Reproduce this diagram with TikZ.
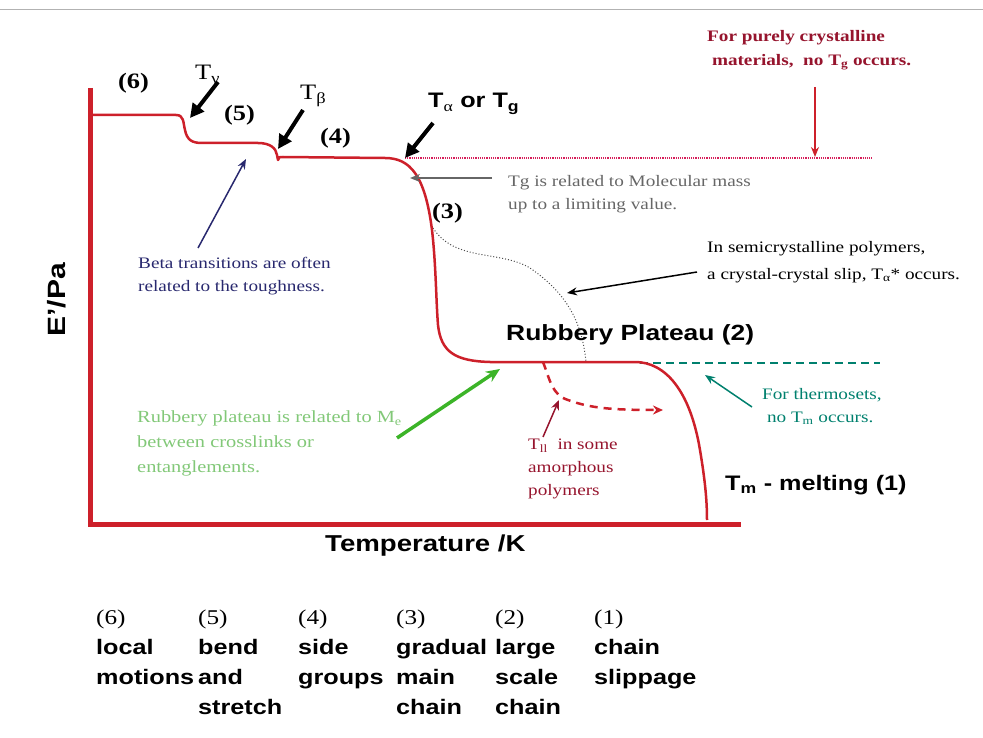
\documentclass[tikz,border=0pt]{standalone}
\usepackage{fontspec}
\setmainfont{Liberation Serif}[FakeStretch=1.2]
\setsansfont{Liberation Sans}[FakeStretch=1.2]
\usetikzlibrary{arrows.meta}
\definecolor{pRed}{RGB}{205,32,42}
\definecolor{pDarkRed}{RGB}{150,20,45}
\definecolor{pNavy}{RGB}{40,40,110}
\definecolor{pGray}{gray}{0.4}
\definecolor{pTeal}{RGB}{0,128,110}
\definecolor{pLeaf}{RGB}{130,200,120}
\definecolor{pGreen}{RGB}{60,180,40}
\definecolor{pPink}{RGB}{215,30,90}
\tikzset{
    curve/.style={line width=2.5pt, pRed, line join=round},
    axis/.style={line width=5pt, pRed},
    note/.style={font=\fontsize{16}{23}\selectfont, align=left, anchor=north west, inner sep=0pt},
    region/.style={font=\bfseries\fontsize{22}{24}\selectfont, inner sep=0pt, anchor=base west},
    big/.style={font=\sffamily\bfseries\fontsize{22}{26}\selectfont, inner sep=0pt, anchor=base west},
    pointer/.style={line width=4pt, -{Triangle[length=14pt,width=14pt]}},
    thinptr/.style={line width=1.5pt, -{Stealth[length=10pt,width=8pt]}},
    legend/.style={font=\sffamily\bfseries\fontsize{21}{30}\selectfont, align=left, anchor=north west, inner sep=0pt}
}

\begin{document}
\begin{tikzpicture}[x=1pt,y=-1pt]
\useasboundingbox (0,0) rectangle (983,738);
\draw[gray!60,line width=0.8pt] (0,9)--(983,9);
% axes
\draw[axis] (90,88)--(90,527);
\draw[axis] (88,524)--(741,524);
% reference levels
\draw[pPink,densely dotted,line width=1.2pt] (405,158)--(872,158);
\draw[pTeal,dash pattern=on 8pt off 5pt,line width=1.3pt] (640,363)--(880,363);
\draw[black!70,dotted,line width=1pt] (433,228) .. controls (455,262) and (500,250) .. (530,268)
    .. controls (565,292) and (582,320) .. (586,362);
% modulus curve
\draw[curve] (93,115) -- (176,115) .. controls (184,115) and (183,122) .. (185,130)
    .. controls (187,140) and (192,143) .. (202,143) -- (258,143)
    .. controls (270,143) and (276,148) .. (277,155) -- (278,160) .. controls (279,157) .. (283,157)
    -- (385,158) .. controls (410,158) and (425,175) .. (432,230)
    .. controls (436,265) and (436,300) .. (438,325)
    .. controls (441,352) and (455,361) .. (490,362) -- (635,362)
    .. controls (665,362) and (690,390) .. (700,450)
    .. controls (705,480) and (707,500) .. (707,520);
\draw[curve,dash pattern=on 8pt off 6pt,-{Stealth[length=10pt,width=9pt]}] (543,362) .. controls (550,380) and (552,395) .. (568,400)
    .. controls (590,408) and (610,410) .. (663,410);

% region numbers
\node[region] (r6) at (118,89) {(6)};
\node[region] (r5) at (224,121) {(5)};
\node[region] (r4) at (320,144) {(4)};
\node[region] (r3) at (432,219) {(3)};

% transition labels
\node[font=\fontsize{22}{26}\selectfont, inner sep=0pt, anchor=base west] (tgam) at (195,80) {T\textsubscript{γ}};
\node[font=\fontsize{22}{26}\selectfont, inner sep=0pt, anchor=base west] (tbet) at (300,100) {T\textsubscript{β}};
\node[big,font=\sffamily\bfseries\fontsize{21}{26}\selectfont] (talp) at (428,108) {T\textsubscript{\rmfamily\mdseries α} or T\textsubscript{g}};
\coordinate (tgamS) at (218,82);  \coordinate (tgamE) at (190,118);
\coordinate (tbetS) at (303,110); \coordinate (tbetE) at (278,149);
\coordinate (talpS) at (433,123); \coordinate (talpE) at (405,158);
\draw[pointer] (tgamS) -- (tgamE);
\draw[pointer] (tbetS) -- (tbetE);
\draw[pointer] (talpS) -- (talpE);

% notes
\node[note,pDarkRed,font=\bfseries\fontsize{16}{24}\selectfont] (cryst) at (707,30)
    {For purely crystalline\\ \ materials,\ \ no T\textsubscript{g} occurs.};
\node[note,pGray] (tgnote) at (508,175) {Tg is related to Molecular mass\\ up to a limiting value.};
\node[note,pNavy] (beta) at (138,257) {Beta transitions are often\\ related to the toughness.};
\node[note,font=\fontsize{16}{27}\selectfont] (slip) at (707,241) {In semicrystalline polymers,\\ a crystal-crystal slip, T\textsubscript{α}* occurs.};
\node[note,pLeaf,font=\fontsize{17}{25}\selectfont] (mesh) at (137,411) {Rubbery plateau is related to M\textsubscript{e}\\ between crosslinks or\\ entanglements.};
\node[note,pTeal] (thset) at (762,388) {For thermosets,\\ \ no T\textsubscript{m} occurs.};
\node[note,pDarkRed] (tll) at (528,439) {T\textsubscript{ll} \ in some\\ amorphous\\ polymers};

\coordinate (crystS) at (815,87);  \coordinate (crystE) at (815,157);
\coordinate (tgS) at (492,178);    \coordinate (tgE) at (410,178);
\coordinate (betaS) at (198,248);  \coordinate (betaE) at (246,159);
\coordinate (slipS) at (697,272);  \coordinate (slipE) at (567,293);
\coordinate (meshS) at (397,438);  \coordinate (meshE) at (500,369);
\coordinate (thsetS) at (752,407); \coordinate (thsetE) at (705,375);
\coordinate (tllS) at (543,437);   \coordinate (tllE) at (559,400);
\draw[thinptr,pRed] (crystS) -- (crystE);
\draw[thinptr,pGray] (tgS) -- (tgE);
\draw[thinptr,pNavy] (betaS) -- (betaE);
\draw[thinptr,black] (slipS) -- (slipE);
\draw[pGreen,line width=3.5pt,-{Stealth[length=14pt,width=12pt]}] (meshS) -- (meshE);
\draw[thinptr,pTeal] (thsetS) -- (thsetE);
\draw[thinptr,pDarkRed] (tllS) -- (tllE);

% big labels
\node[big] (rub) at (506,340) {Rubbery Plateau (2)};
\node[big,font=\sffamily\bfseries\fontsize{21}{26}\selectfont] (melt) at (725,490) {T\textsubscript{m} - melting (1)};
\node[big,font=\sffamily\bfseries\fontsize{23}{26}\selectfont] (xlab) at (325,551) {Temperature /K};
\node[big,anchor=center,rotate=90,font=\sffamily\bfseries\fontsize{25}{28}\selectfont] (ylab) at (57,300) {E'/Pa};

% legend
\node[legend] (l6) at (96,610) {{\rmfamily\mdseries (6)}\\ local\\ motions};
\node[legend] (l5) at (198,610) {{\rmfamily\mdseries (5)}\\ bend\\ and\\ stretch};
\node[legend] (l4) at (298,610) {{\rmfamily\mdseries (4)}\\ side\\ groups};
\node[legend] (l3) at (396,610) {{\rmfamily\mdseries (3)}\\ gradual\\ main\\ chain};
\node[legend] (l2) at (495,610) {{\rmfamily\mdseries (2)}\\ large\\ scale\\ chain};
\node[legend] (l1) at (594,610) {{\rmfamily\mdseries (1)}\\ chain\\ slippage};
\end{tikzpicture}
\end{document}
